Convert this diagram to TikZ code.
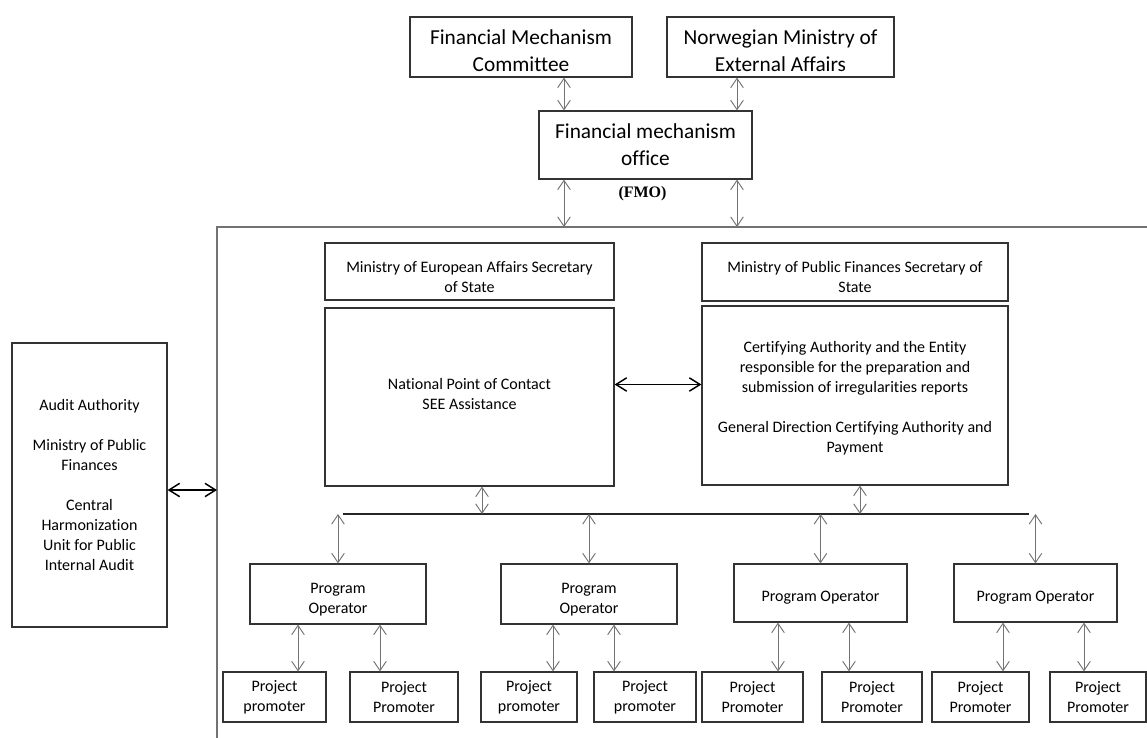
\documentclass[tikz,border=0pt]{standalone}
\usepackage{fontspec}
\setmainfont{Carlito}[Ligatures=NoCommon]
\newfontfamily\fmofont{Liberation Serif}
\usetikzlibrary{arrows.meta}

\tikzset{
	box/.style={draw=black!80,line width=.9pt,align=center,inner sep=0pt,font=\fontsize{12}{15}\selectfont},
	bigbox/.style={box,font=\fontsize{16}{20.25}\selectfont},
	low/.style={text height=15.5pt},
	lowtwo/.style={text height=31pt},
	biglow/.style={text height=37pt},
	wh/.style 2 args={minimum width=#1*.75pt,minimum height=#2*.75pt},
	link/.style={draw=black!55,line width=.7pt,{Straight Barb[length=7pt,width=9.5pt]}-{Straight Barb[length=7pt,width=9.5pt]}},
	heavy/.style={draw=black,line width=1.1pt,{Straight Barb[length=8pt,width=10pt]}-{Straight Barb[length=8pt,width=10pt]}},
	frame/.style={draw=black!55,line width=.8pt},
	busline/.style={draw=black!85,line width=1pt}
}

\begin{document}
\begin{tikzpicture}[x=.75pt,y=-.75pt]
\useasboundingbox (0,0) rectangle (1147,738);

% donor side
\node[bigbox,biglow,wh={222}{60}] (fmc) at (521,47) {Financial Mechanism\\Committee};
\node[bigbox,biglow,wh={227}{60}] (nmea) at (780.5,47) {Norwegian Ministry of\\External Affairs};
\node[bigbox,wh={213}{68}] (fmo) at (645.5,145) {Financial mechanism\\office};
\node[font=\fmofont\bfseries\fontsize{12}{14}\selectfont] (fmolbl) at (642.5,194) {(FMO)};

% national system
\draw[frame] (217,738) -- (217,227) -- (1147,227);
\coordinate (ftop) at (0,227);
\coordinate (fleft) at (217,0);

\node[box,lowtwo,wh={289}{57}] (mea) at (469.5,271.5) {Ministry of European Affairs Secretary\\of State};
\node[box,text height=18.5pt,wh={289}{178}] (npc) at (469.5,397) {National Point of Contact\\SEE Assistance};
\node[box,lowtwo,wh={306}{58}] (mpf) at (855,272) {Ministry of Public Finances Secretary of\\State};
\node[box,text height=87.5pt,wh={306}{179}] (ca) at (855,395.5) {Certifying Authority and the Entity\\responsible for the preparation and\\submission of irregularities reports\\[15pt]General Direction Certifying Authority and\\Payment};
\node[box,wh={155}{284}] (aud) at (89.5,485) {Audit Authority\\[15pt]Ministry of Public\\Finances\\[15pt]Central\\Harmonization\\Unit for Public\\Internal Audit};

% program operators
\node[box,lowtwo,wh={176}{60}] (po1) at (338,594) {Program\\Operator};
\node[box,lowtwo,wh={176}{60}] (po2) at (589,594) {Program\\Operator};
\node[box,low,wh={173}{58}] (po3) at (820.5,593) {Program Operator};
\node[box,low,wh={163}{58}] (po4) at (1035.5,593) {Program Operator};

% project promoters
\node[box,wh={103}{50}] (pp1) at (274.5,697) {Project\\promoter};
\node[box,wh={108}{50}] (pp2) at (404,697) {Project\\Promoter};
\node[box,wh={96}{50}] (pp3) at (529,697) {Project\\promoter};
\node[box,wh={102}{50}] (pp4) at (645,697) {Project\\promoter};
\node[box,wh={101}{50}] (pp5) at (752.5,697) {Project\\Promoter};
\node[box,wh={100}{50}] (pp6) at (872,697) {Project\\Promoter};
\node[box,wh={97}{50}] (pp7) at (980.5,697) {Project\\Promoter};
\node[box,wh={96}{50}] (pp8) at (1098,697) {Project\\Promoter};

% connectors
\coordinate (a1) at (564,0);
\coordinate (a2) at (737,0);
\draw[link] (fmc.south -| a1) -- (fmo.north -| a1);
\draw[link] (nmea.south -| a2) -- (fmo.north -| a2);
\draw[link] (fmo.south -| a1) -- (ftop -| a1);
\draw[link] (fmo.south -| a2) -- (ftop -| a2);

\coordinate (hy) at (0,384.5);
\coordinate (ay) at (0,490);
\draw[heavy] (npc.east |- hy) -- (ca.west |- hy);
\draw[heavy] (aud.east |- ay) -- (fleft |- ay);

\coordinate (bl) at (343,514);
\coordinate (br) at (1029,514);
\draw[busline] (bl) -- (br);
\coordinate (d1) at (482,0);
\coordinate (d2) at (860,0);
\draw[link] (npc.south -| d1) -- (bl -| d1);
\draw[link] (ca.south -| d2) -- (bl -| d2);
\foreach \p in {po1,po2,po3,po4}
	\draw[link] (\p.north) -- (\p.north |- bl);

\foreach \p/\q/\x in {po1/pp1/298,po1/pp2/380,po2/pp3/553,po2/pp4/614,po3/pp5/778,po3/pp6/849,po4/pp7/1003,po4/pp8/1084} {
	\coordinate (k) at (\x,0);
	\draw[link] (\p.south -| k) -- (\q.north -| k);
	}
\end{tikzpicture}
\end{document}
